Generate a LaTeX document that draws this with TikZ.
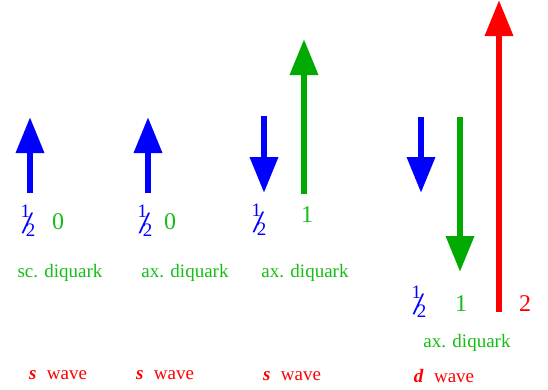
\documentclass[tikz,border=0pt]{standalone}
\usepackage{fontspec}
\setmainfont{Liberation Serif}
\usepackage{graphicx}
\usetikzlibrary{arrows.meta}
\definecolor{qblue}{RGB}{0,0,255}
\definecolor{qgreen}{RGB}{0,170,0}
\definecolor{tgreen}{RGB}{20,190,20}
\definecolor{qred}{RGB}{255,0,0}
\newcommand{\hlf}{{\fontsize{19}{19}\selectfont\rlap{\raisebox{0.95em}{1}}\rlap{\kern0.05em\raisebox{0.12em}{\scalebox{1.35}[1]{\fontsize{31}{31}\selectfont/}}}\kern0.27em 2}}
\newcommand{\wv}[1]{\textbf{\textit{#1}}\hspace{0.55em}wave}
\tikzset{
  spin/.style={line width=6.5pt, -{Triangle[width=27pt,length=36pt]}},
  lbl/.style={inner sep=0pt, font=\fontsize{19}{19}\selectfont},
  num/.style={inner sep=0pt, font=\fontsize{24}{24}\selectfont},
  frac/.style={inner sep=0pt, anchor=base west},
}
\begin{document}
\begin{tikzpicture}[x=1pt,y=-1pt]
\useasboundingbox (0,0) rectangle (548,389);
% column 1
\draw[spin, qblue] (30,193) -- (30,117);
\node[frac, qblue] (h1) at (20.5,236) {\hlf};
\node[num, tgreen] (z1) at (58,222) {0};
\node[lbl, tgreen] (d1) at (60,273) {sc. diquark};
\node[lbl, qred] (w1) at (58,375) {\wv{s}};
% column 2
\draw[spin, qblue] (148,193) -- (148,117);
\node[frac, qblue] (h2) at (137.5,236) {\hlf};
\node[num, tgreen] (z2) at (170,222) {0};
\node[lbl, tgreen] (d2) at (185,273) {ax. diquark};
\node[lbl, qred] (w2) at (165,375) {\wv{s}};
% column 3
\draw[spin, qblue] (264,116) -- (264,193);
\draw[spin, qgreen] (304,194) -- (304,39);
\node[frac, qblue] (h3) at (251.5,235) {\hlf};
\node[num, tgreen] (o3) at (307,215) {1};
\node[lbl, tgreen] (d3) at (305,273) {ax. diquark};
\node[lbl, qred] (w3) at (292,376) {\wv{s}};
% column 4
\draw[spin, qblue] (421,117) -- (421,193);
\draw[spin, qgreen] (460,117) -- (460,272);
\draw[spin, qred] (499,312) -- (499,0);
\node[frac, qblue] (h4) at (411.5,317) {\hlf};
\node[num, tgreen] (o4) at (461,304) {1};
\node[num, qred] (t4) at (525,304) {2};
\node[lbl, tgreen] (d4) at (467,343) {ax. diquark};
\node[lbl, qred] (w4) at (444,376) {\wv{d}};
\end{tikzpicture}
\end{document}
